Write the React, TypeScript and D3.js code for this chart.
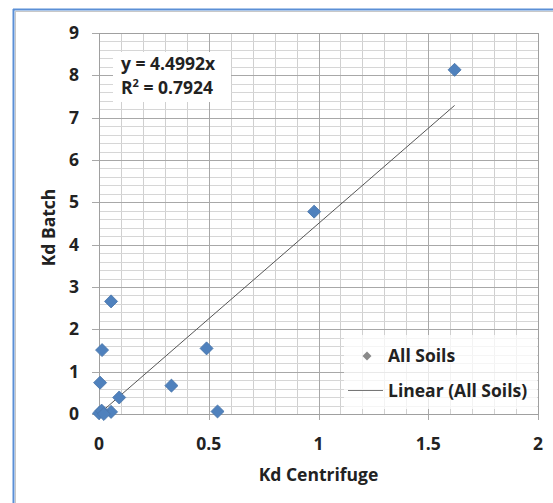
import React, { useEffect, useRef } from 'react';
import * as d3 from 'd3';

// measured values (Kd Centrifuge, Kd Batch)
const kdCentrifuge = [1.62, 0.98, 0.055, 0.014, 0.49, 0.005, 0.33, 0.092, 0.54, 0.055, 0.0, 0.012, 0.022];
const kdBatch = [8.13, 4.78, 2.66, 1.51, 1.55, 0.74, 0.67, 0.39, 0.06, 0.05, 0.02, 0.08, 0.0];
const slope = 4.4992;
const r2 = 0.7924;
const xTicks = [0, 0.5, 1, 1.5, 2];
const yTicks = [0, 1, 2, 3, 4, 5, 6, 7, 8, 9];

const W = 553;
const H = 503;
const FONT = '"Open Sans", Lato, sans-serif';
const FS = 17.5;

export default function App() {
  const ref = useRef<SVGSVGElement>(null);

  useEffect(() => {
    const svg = d3.select(ref.current);
    svg.selectAll('*').remove();

    const margin = { top: 33, right: 15, bottom: 89, left: 99 };
    const w = W - margin.left - margin.right;
    const h = H - margin.top - margin.bottom;

    const x = d3.scaleLinear().domain([0, 2]).range([0, w]);
    const y = d3.scaleLinear().domain([0, 9]).range([h, 0]);

    // window frame
    svg.append('rect').attr('width', W).attr('height', H).attr('fill', '#fff');
    svg.append('line').attr('x1', 13).attr('x2', W).attr('y1', 9.5).attr('y2', 9.5)
      .attr('stroke', '#5b8fd6').attr('stroke-width', 2);
    svg.append('line').attr('x1', 13.5).attr('x2', 13.5).attr('y1', 9).attr('y2', H)
      .attr('stroke', '#5b8fd6').attr('stroke-width', 2);
    svg.append('line').attr('x1', 15).attr('x2', W).attr('y1', 11.5).attr('y2', 11.5)
      .attr('stroke', '#c8c8c8');
    svg.append('line').attr('x1', 15.5).attr('x2', 15.5).attr('y1', 11).attr('y2', H)
      .attr('stroke', '#c8c8c8');

    const main = svg.append('g')
      .attr('transform', `translate(${margin.left}, ${margin.top})`);

    // minor grid
    const minorX = d3.range(0, 2.0001, 0.1);
    const minorY = d3.range(0, 9.0001, 0.2);
    main.append('g').selectAll('line').data(minorX).join('line')
      .attr('x1', d => Math.round(x(d)) + 0.5).attr('x2', d => Math.round(x(d)) + 0.5)
      .attr('y1', 0).attr('y2', h)
      .attr('stroke', '#d0d0d0');
    main.append('g').selectAll('line').data(minorY).join('line')
      .attr('y1', d => Math.round(y(d)) + 0.5).attr('y2', d => Math.round(y(d)) + 0.5)
      .attr('x1', 0).attr('x2', w)
      .attr('stroke', '#d6d6d6');

    // major grid
    main.append('g').selectAll('line').data(xTicks).join('line')
      .attr('x1', d => Math.round(x(d)) + 0.5).attr('x2', d => Math.round(x(d)) + 0.5)
      .attr('y1', 0).attr('y2', h + 6)
      .attr('stroke', '#a8a8a8');
    main.append('g').selectAll('line').data(yTicks).join('line')
      .attr('y1', d => Math.round(y(d)) + 0.5).attr('y2', d => Math.round(y(d)) + 0.5)
      .attr('x1', -7).attr('x2', w)
      .attr('stroke', '#a8a8a8');

    // plot border
    main.append('rect')
      .attr('x', 0.5).attr('y', 0.5).attr('width', w).attr('height', h)
      .attr('fill', 'none').attr('stroke', '#a0a0a0');

    const label = (sel: any) => sel
      .attr('font-family', FONT).attr('font-weight', 'bold').attr('font-size', FS)
      .attr('fill', '#222');

    // tick labels
    main.append('g').selectAll('text').data(yTicks).join('text')
      .attr('x', -20).attr('y', d => y(d) + 6)
      .attr('text-anchor', 'end')
      .call(label)
      .text(d => d);
    main.append('g').selectAll('text').data(xTicks).join('text')
      .attr('x', d => x(d)).attr('y', h + 36)
      .attr('text-anchor', 'middle')
      .call(label)
      .text(d => d);

    // axis titles
    main.append('text')
      .attr('x', w / 2).attr('y', h + 67)
      .attr('text-anchor', 'middle')
      .call(label)
      .text('Kd Centrifuge');
    main.append('text')
      .attr('transform', `translate(${-44}, ${y(4.5) + 4}) rotate(-90)`)
      .attr('text-anchor', 'middle')
      .call(label)
      .text('Kd Batch');

    // trendline
    const xMax = d3.max(kdCentrifuge) as number;
    main.append('line')
      .attr('x1', x(0)).attr('y1', y(0))
      .attr('x2', x(xMax)).attr('y2', y(slope * xMax))
      .attr('stroke', '#555').attr('stroke-width', 1);

    // points
    const diamond = d3.symbol(d3.symbolSquare, 85)();
    main.append('g').selectAll('path').data(kdCentrifuge).join('path')
      .attr('d', diamond)
      .attr('transform', (d, i) => `translate(${x(d)}, ${y(kdBatch[i])}) rotate(45)`)
      .attr('fill', '#4f81bd')
      .attr('stroke', '#4a76aa').attr('stroke-width', 0.8);

    // equation label
    const eq = main.append('g').attr('transform', `translate(${14}, ${19})`);
    eq.append('rect').attr('x', 0).attr('y', 0).attr('width', 118).attr('height', 50).attr('fill', '#fff');
    eq.append('text')
      .attr('x', 8).attr('y', 18)
      .call(label)
      .text(`y = ${slope}x`);
    const rt = eq.append('text')
      .attr('x', 8).attr('y', 42)
      .call(label);
    rt.append('tspan').text('R');
    rt.append('tspan').attr('font-size', 11).attr('dy', -7).text('2');
    rt.append('tspan').attr('dy', 7).text(` = ${r2}`);

    // legend
    const lg = main.append('g').attr('transform', `translate(${245}, ${302})`);
    lg.append('rect').attr('x', 0).attr('y', 0).attr('width', 193).attr('height', 74)
      .attr('fill', '#fff').attr('fill-opacity', 0.75);
    lg.append('path')
      .attr('d', d3.symbol(d3.symbolSquare, 40)())
      .attr('transform', 'translate(23, 21) rotate(45)')
      .attr('fill', '#8a8a8a');
    lg.append('text')
      .attr('x', 44).attr('y', 27)
      .call(label)
      .text('All Soils');
    lg.append('line')
      .attr('x1', 4).attr('x2', 39).attr('y1', 55.5).attr('y2', 55.5)
      .attr('stroke', '#777');
    lg.append('text')
      .attr('x', 44).attr('y', 62)
      .call(label)
      .text('Linear (All Soils)');
  }, []);

  return (
    <svg
      ref={ref}
      width={W}
      height={H}
      style={{ position: 'absolute', left: 0, top: 0, display: 'block' }}
    />
  );
}
